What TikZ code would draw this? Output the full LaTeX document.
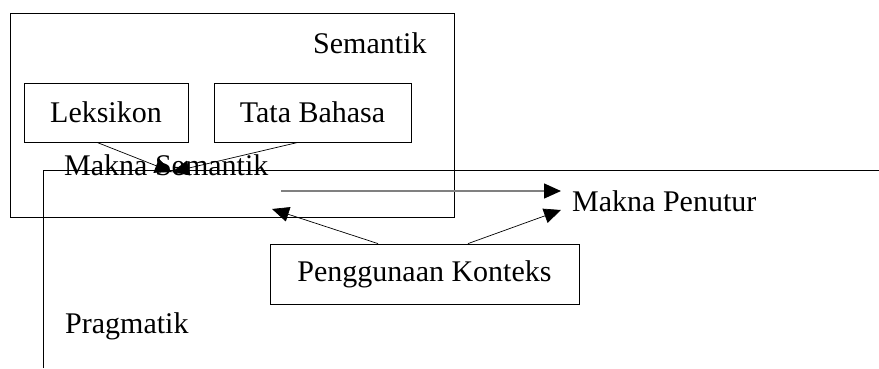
\documentclass[tikz,border=0pt]{standalone}
\usepackage{fontspec}
\setmainfont{Liberation Serif}
\usetikzlibrary{arrows.meta}
\tikzset{
  boxnode/.style={draw, line width=0.8pt, inner sep=0pt},
  lbl/.style={anchor=base west, inner sep=0pt},
  tip/.style={line width=0.7pt, -{Triangle[length=17pt,width=15pt,color=black]}}
}
\begin{document}
\begin{tikzpicture}[x=1pt, y=-1pt, font=\fontsize{30}{34}\selectfont]
            \useasboundingbox (0, 0) rectangle (879, 368);

            \draw[line width=0.8pt](10, 13) rectangle (454, 217);
            \draw[line width=0.8pt](43, 368) -- (43, 170) -- (879, 170);

            \node at(313, 53)[lbl](semantik){Semantik};
            \node at(106, 112.5)[boxnode, minimum width=164pt, minimum height=59pt](lek){Leksikon};
            \node at(312.5, 112.5)[boxnode, minimum width=197pt, minimum height=59pt](tata){Tata Bahasa};
            \node at(64, 175)[lbl](msem){Makna Semantik};
            \node at(572, 211)[lbl](mpen){Makna Penutur};
            \node at(424.5, 274)[boxnode, minimum width=309pt, minimum height=60pt](kon){Penggunaan Konteks};
            \node at(65, 333)[lbl](prag){Pragmatik};

            \coordinate (sem) at (172, 172);
            \coordinate (semout) at (281, 191);
            \coordinate (penin) at (561, 191);
            \coordinate (semin) at (272, 209);
            \coordinate (penlow) at (561, 210);

                \draw[tip]([xshift=-9]lek.south) to (sem);
                \draw[tip]([xshift=-14.5]tata.south) to (sem);
            \draw[tip, gray, line width=1.4pt](semout) -- (penin);
                \draw[tip]([xshift=-46.5]kon.north) to (semin);
                \draw[tip]([xshift=43.5]kon.north) to (penlow);
\end{tikzpicture}
\end{document}
